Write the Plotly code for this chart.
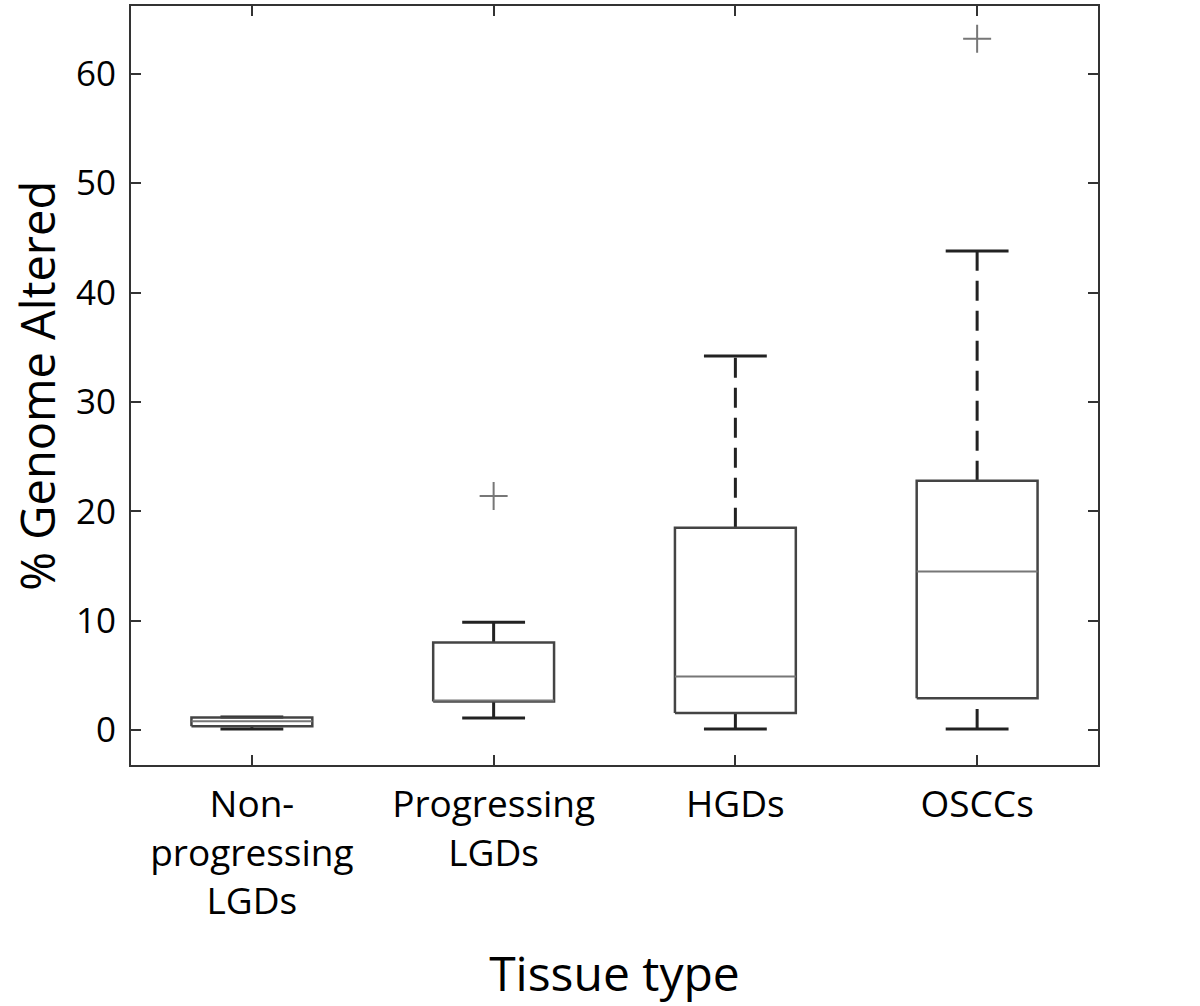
import plotly.graph_objects as go

categories = ["Non-<br>progressing<br>LGDs", "Progressing<br>LGDs", "HGDs", "OSCCs"]
positions = [1, 2, 3, 4]
q1 = [0.35, 2.6, 1.55, 2.9]
median = [0.8, 2.7, 4.9, 14.5]
q3 = [1.15, 8.0, 18.5, 22.8]
lower_whisker = [0.1, 1.1, 0.1, 0.1]
upper_whisker = [1.2, 9.85, 34.2, 43.8]
outlier_x = [2, 4]
outlier_y = [21.4, 63.2]
y_ticks = [0, 10, 20, 30, 40, 50, 60]

BOX_HALF = 0.25
CAP_HALF = 0.13

wx, wy, cx, cy, bx, by, mx, my = [], [], [], [], [], [], [], []
for c, a, m, b, lo, hi in zip(positions, q1, median, q3, lower_whisker, upper_whisker):
    wx += [c, c, None, c, c, None]
    wy += [b, hi, None, lo, a, None]
    cx += [c - CAP_HALF, c + CAP_HALF, None, c - CAP_HALF, c + CAP_HALF, None]
    cy += [hi, hi, None, lo, lo, None]
    bx += [c - BOX_HALF, c + BOX_HALF, c + BOX_HALF, c - BOX_HALF, c - BOX_HALF, None]
    by += [a, a, b, b, a, None]
    mx += [c - BOX_HALF, c + BOX_HALF, None]
    my += [m, m, None]

fig = go.Figure()
fig.add_trace(go.Scatter(x=wx, y=wy, mode="lines", line=dict(color="#222", width=3, dash="20px,10px"), hoverinfo="skip"))
fig.add_trace(go.Scatter(x=cx, y=cy, mode="lines", line=dict(color="#222", width=3), hoverinfo="skip"))
fig.add_trace(go.Scatter(x=bx, y=by, mode="lines", line=dict(color="#444", width=2.5), hoverinfo="skip"))
fig.add_trace(go.Scatter(x=mx, y=my, mode="lines", line=dict(color="#777", width=2), hoverinfo="skip"))
fig.add_trace(go.Scatter(x=outlier_x, y=outlier_y, mode="markers",
                         marker=dict(symbol="cross-thin-open", size=20, color="#777",
                                     line=dict(color="#777", width=2)), hoverinfo="skip"))

font_family = "Open Sans, Noto Sans, sans-serif"
fig.update_layout(
    width=1200, height=1006,
    margin=dict(l=131, r=102, t=4, b=241),
    paper_bgcolor="white", plot_bgcolor="white",
    showlegend=False,
    font=dict(family=font_family, color="black", size=34),
    xaxis=dict(
        range=[0.5, 4.5], tickvals=positions, ticktext=categories,
        showline=True, linecolor="#333", linewidth=2, mirror="ticks",
        ticks="inside", ticklen=10, tickwidth=2, tickcolor="#333",
        showgrid=False, zeroline=False, ticklabelstandoff=6,
        tickfont=dict(size=37),
        title=dict(text="Tissue type", font=dict(size=48), standoff=34),
    ),
    yaxis=dict(
        range=[-3.2, 66.2], tickvals=y_ticks,
        showline=True, linecolor="#333", linewidth=2, mirror="ticks",
        ticks="inside", ticklen=10, tickwidth=2, tickcolor="#333",
        showgrid=False, zeroline=False, ticklabelstandoff=6,
        tickfont=dict(size=35),
    ),
    annotations=[dict(
        text="% Genome Altered", textangle=-90, showarrow=False,
        xref="paper", yref="paper", x=-0.098, y=0.5,
        xanchor="center", yanchor="middle", font=dict(size=47),
    )],
)

fig.write_html("out.html", config={"displayModeBar": False},
               post_script="document.body.style.margin='0';document.body.style.overflow='hidden';")
